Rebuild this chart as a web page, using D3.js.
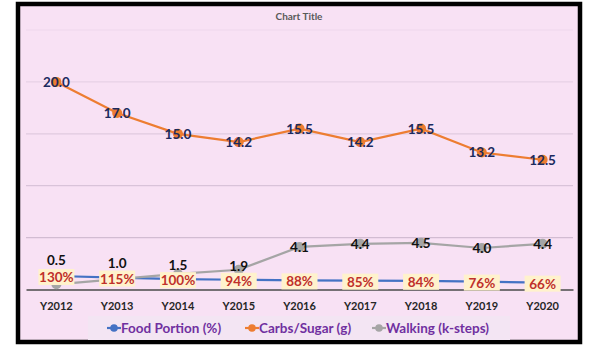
<!DOCTYPE html>
<html><head><meta charset="utf-8">
<script src="https://cdn.jsdelivr.net/npm/d3@7/dist/d3.min.js"></script>
<style>
html,body{margin:0;padding:0;background:#fff;}
svg{display:block;font-family:Lato,"Open Sans",sans-serif;}
</style></head>
<body>
<svg id="c" width="602" height="355"></svg>
<script>
const categories = ["Y2012","Y2013","Y2014","Y2015","Y2016","Y2017","Y2018","Y2019","Y2020"];
const foodPortion = [1.30,1.15,1.00,0.94,0.88,0.85,0.84,0.76,0.66];
const carbsSugar = [20.0,17.0,15.0,14.2,15.5,14.2,15.5,13.2,12.5];
const walking = [0.5,1.0,1.5,1.9,4.1,4.4,4.5,4.0,4.4];
const yTicks = [0,5,10,15,20,25];
const seriesNames = ["Food Portion (%)","Carbs/Sugar (g)","Walking (k-steps)"];
const chartTitle = "Chart Title";

const svg = d3.select("#c");
svg.append("rect").attr("x",18).attr("y",4).attr("width",562).attr("height",338)
  .attr("fill","#f8e1f4").attr("stroke","#000").attr("stroke-width",4.5);

const x = d3.scaleBand().domain(categories).range([26,573]);
const y = d3.scaleLinear().domain([0,25]).range([289.5,30]);
const cx = c => x(c) + x.bandwidth()/2;

const gridCol = d3.scaleLinear().domain([5,25]).range(["#d2bcd2","#eed8ec"]);
svg.append("g").selectAll("line").data(yTicks.filter(t=>t>0)).join("line")
  .attr("x1",26).attr("x2",573).attr("y1",d=>y(d)).attr("y2",d=>y(d))
  .attr("stroke",d=>gridCol(d)).attr("stroke-width",1.2);

const xAxis = svg.append("g").attr("transform",`translate(0,${y(0)})`)
  .call(d3.axisBottom(x).tickSize(0).tickPadding(13));
xAxis.select(".domain").attr("stroke","#4a4a4a").attr("stroke-width",1.3);
xAxis.selectAll("text").attr("font-family","Lato").attr("font-weight","bold")
  .attr("font-size","11px").attr("fill","#262626");

svg.append("text").attr("x",299).attr("y",20).attr("text-anchor","middle")
  .attr("font-size","10px").attr("font-weight","bold").attr("fill","#595959").text(chartTitle);

const line = d3.line().x((d,i)=>cx(categories[i])).y(d=>y(d));
const colors = ["#4472c4","#ed7d31","#a5a5a5"];
const series = [foodPortion, carbsSugar, walking];

series.forEach((s,k)=>{
  svg.append("path").attr("d",line(s)).attr("fill","none")
    .attr("stroke",colors[k]).attr("stroke-width",2.2);
  svg.append("g").selectAll("circle").data(s).join("circle")
    .attr("cx",(d,i)=>cx(categories[i])).attr("cy",d=>y(d)).attr("r",5)
    .attr("fill",colors[k]);
});

svg.append("g").selectAll("text").data(carbsSugar).join("text")
  .attr("x",(d,i)=>cx(categories[i])).attr("y",d=>y(d)+5)
  .attr("text-anchor","middle").attr("font-size","13.5px").attr("font-weight","bold")
  .attr("fill","#1b2a5e").text(d=>d.toFixed(1));

svg.append("g").selectAll("text").data(walking).join("text")
  .attr("x",(d,i)=>cx(categories[i])).attr("y",d=> (d<3 ? y(3 - 0.4*d) : y(d)) + 5)
  .attr("text-anchor","middle").attr("font-size","13.5px").attr("font-weight","bold")
  .attr("fill","#111").text(d=>d.toFixed(1));

const fl = svg.append("g").selectAll("g").data(foodPortion).join("g")
  .attr("transform",(d,i)=>`translate(${cx(categories[i])},${y(d)+1})`);
fl.append("rect").attr("x",-18).attr("y",-8).attr("width",36).attr("height",16).attr("fill","#fff2cc");
fl.append("text").attr("y",5).attr("text-anchor","middle").attr("font-size","13.5px")
  .attr("font-weight","bold").attr("fill","#c0302b").text(d=>Math.round(d*100)+"%");

const lg = svg.append("g");
lg.append("rect").attr("x",88).attr("y",316).attr("width",422).attr("height",24).attr("fill","#f3e5f3");
const legX = [107,245,372];
seriesNames.forEach((n,k)=>{
  const g = lg.append("g").attr("transform",`translate(${legX[k]},328)`);
  g.append("line").attr("x1",0).attr("x2",14).attr("stroke",colors[k]).attr("stroke-width",2.2);
  g.append("circle").attr("cx",7).attr("r",3.8).attr("fill",colors[k]);
  g.append("text").attr("x",14).attr("y",5).attr("font-size","13.5px").attr("font-weight","bold")
    .attr("fill","#7030a0").text(n);
});
</script>
</body></html>
